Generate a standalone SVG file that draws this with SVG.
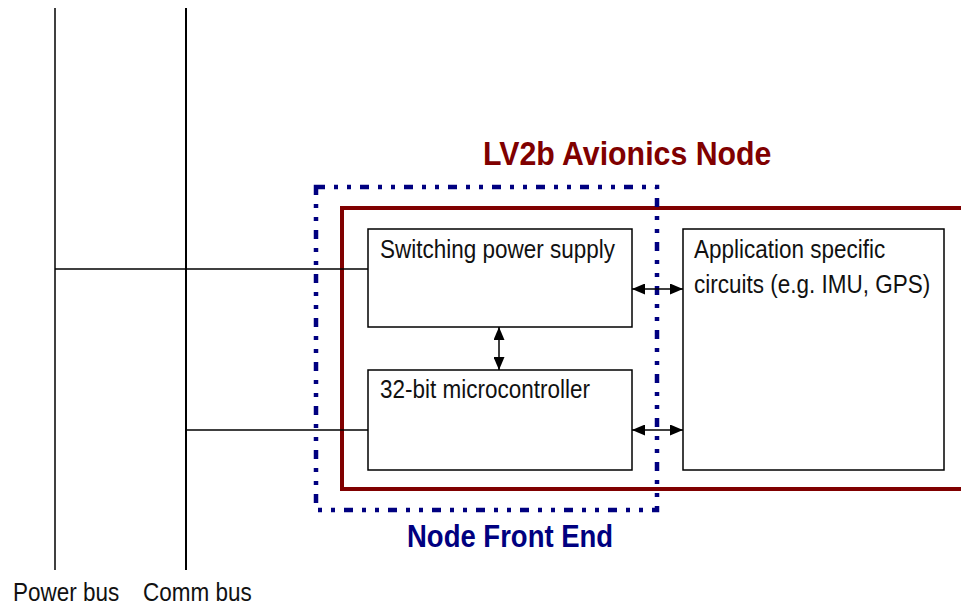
<svg xmlns="http://www.w3.org/2000/svg" width="961" height="607" viewBox="0 0 961 607">
<defs>
<marker id="ah" viewBox="0 0 13 11" refX="13" refY="5.5" markerWidth="13" markerHeight="11" markerUnits="userSpaceOnUse" orient="auto-start-reverse">
<path d="M0,0 L13,5.5 L0,11 Z" fill="#000"/>
</marker>
</defs>
<style>
.box{fill:#fff;stroke:#000;stroke-width:1.5}
.lbl{font-family:"Liberation Sans",Arial,sans-serif;font-size:22.5px;fill:#111}
.bus{stroke:#000;fill:none}
.conn{stroke:#000;stroke-width:1.5;fill:none}
.arr{stroke:#000;stroke-width:1.5;fill:none;marker-start:url(#ah);marker-end:url(#ah)}
.title{font-family:"Liberation Sans",Arial,sans-serif;font-weight:bold}
</style>
<rect width="961" height="607" fill="#fff"/>
<g id="power-bus">
<line class="bus" x1="55" y1="8" x2="55" y2="570" stroke-width="1.5"/>
<text class="lbl" transform="translate(13,601) scale(1,1.12)">Power bus</text>
</g>
<g id="comm-bus">
<line class="bus" x1="186" y1="8" x2="186" y2="570" stroke-width="2"/>
<text class="lbl" transform="translate(143,601) scale(1,1.12)">Comm bus</text>
</g>
<g id="avionics-node">
<path d="M963,208 L342,208 L342,489 L963,489" fill="none" stroke="#800000" stroke-width="4"/>
<text class="title" fill="#800000" font-size="30.3" transform="translate(483,165) scale(1,1.1)">LV2b Avionics Node</text>
</g>
<g id="front-end">
<rect x="316" y="187" width="341" height="323" fill="none" stroke="#000080" stroke-width="4.5" stroke-dasharray="9 9 4 9 4 9"/>
<text class="title" fill="#000080" font-size="27.5" transform="translate(407,547) scale(1,1.12)">Node Front End</text>
</g>
<g id="connectors">
<line class="conn" x1="55" y1="269" x2="368" y2="269"/>
<line class="conn" x1="186" y1="430" x2="368" y2="430"/>
<line class="arr" x1="632" y1="289" x2="683" y2="289"/>
<line class="arr" x1="632" y1="430" x2="683" y2="430"/>
<line class="arr" x1="499" y1="327" x2="499" y2="370"/>
</g>
<g id="power-supply">
<rect class="box" x="368" y="229" width="264" height="98"/>
<text class="lbl" transform="translate(380,258) scale(1,1.12)">Switching power supply</text>
</g>
<g id="microcontroller">
<rect class="box" x="368" y="370" width="264" height="100"/>
<text class="lbl" transform="translate(380,398) scale(1,1.12)">32-bit microcontroller</text>
</g>
<g id="application">
<rect class="box" x="683" y="229" width="261" height="241"/>
<text class="lbl" transform="translate(694,258) scale(1,1.12)">Application specific</text>
<text class="lbl" transform="translate(694,293) scale(1,1.12)">circuits (e.g. IMU, GPS)</text>
</g>
</svg>
